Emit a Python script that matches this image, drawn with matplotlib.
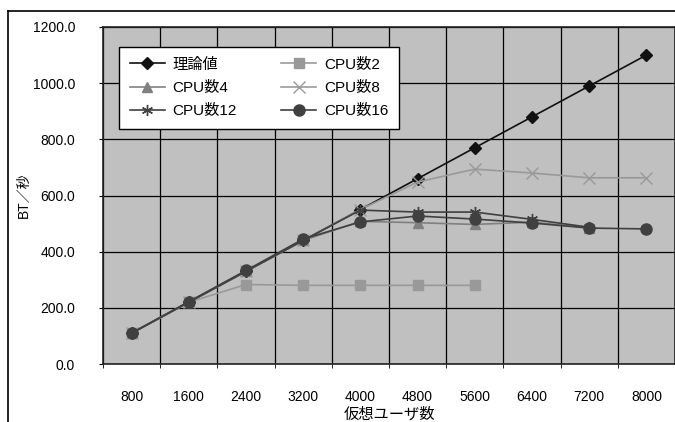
import numpy as np
import matplotlib
matplotlib.use('Agg')
import matplotlib.pyplot as plt
from matplotlib.lines import Line2D

plt.rcParams['font.family'] = ['Liberation Sans', 'Noto Sans CJK JP']

# data
users = ['800', '1600', '2400', '3200', '4000', '4800', '5600', '6400', '7200', '8000']
theory = [110, 220, 330, 440, 550, 660, 770, 880, 990, 1100]
cpu2 = [110, 220, 283, 280, 280, 280, 280, np.nan, np.nan, np.nan]
cpu4 = [110, 220, 330, 440, 508, 503, 497, 505, 485, np.nan]
cpu8 = [110, 220, 330, 440, 550, 648, 694, 680, 663, 663]
cpu12 = [110, 220, 330, 440, 548, 541, 541, 515, 487, np.nan]
cpu16 = [110, 222, 333, 445, 506, 527, 516, 502, 484, 481]

fig = plt.figure(figsize=(6.75, 4.22), dpi=100)
ax = fig.add_axes([103/675, 58/422, 572/675, 337/422])
ax.set_facecolor('#c0c0c0')

x = np.arange(len(users))
h_th, = ax.plot(x, theory, color='#111111', lw=1.2, marker='D', ms=6, label='理論値', zorder=3)
h2, = ax.plot(x, cpu2, color='#999999', lw=1.2, marker='s', ms=7, label='CPU数2', zorder=3)
h4, = ax.plot(x, cpu4, color='#808080', lw=1.2, marker='^', ms=7, label='CPU数4', zorder=3)
h8, = ax.plot(x, cpu8, color='#999999', lw=1.2, marker='x', ms=8, mew=1.0, label='CPU数8', zorder=3)
h12, = ax.plot(x, cpu12, color='#404040', lw=1.2, marker=(6, 2, 0), ms=8, mew=1.0, label='CPU数12', zorder=3)
h16, = ax.plot(x, cpu16, color='#404040', lw=1.2, marker='o', ms=8, label='CPU数16', zorder=3)

ax.set_xlim(-0.5, len(users) - 0.5)
ax.set_ylim(0, 1200)
ax.set_xticks(x)
ax.set_xticklabels(users)
ax.set_xticks(np.arange(-0.5, len(users)), minor=True)
ax.set_yticks(np.arange(0, 1201, 200))
ax.set_yticklabels(['%.1f' % v for v in np.arange(0, 1201, 200)])
ax.tick_params(axis='x', which='major', length=0, pad=19, labelsize=10)
ax.tick_params(axis='x', which='minor', length=3)
ax.tick_params(axis='y', length=3, pad=17, labelsize=10)
ax.grid(True, axis='x', which='minor', color='black', lw=0.9)
ax.grid(True, axis='y', which='major', color='black', lw=0.9)
ax.set_axisbelow(True)
for s in ax.spines.values():
    s.set_color('#222222')
    s.set_linewidth(1.2)

ax.set_xlabel('仮想ユーザ数', fontsize=11, labelpad=2)
ax.set_ylabel('BT／秒', fontsize=10)
ax.yaxis.set_label_coords(-72/572, 0.5)

leg = ax.legend([h_th, h4, h12, h2, h8, h16],
                ['理論値', 'CPU数4', 'CPU数12', 'CPU数2', 'CPU数8', 'CPU数16'],
                ncol=2, loc='upper left', bbox_to_anchor=(16/572, 1 - 20/337),
                fontsize=11, fancybox=False, framealpha=1, edgecolor='black',
                handlelength=2.3, handletextpad=0.5, columnspacing=2.9,
                borderaxespad=0, labelspacing=0.6, borderpad=0.7)
leg.get_frame().set_linewidth(1.0)

# outer chart frame
fig.add_artist(Line2D([8/675, 1], [1 - 11/422, 1 - 11/422], color='black', lw=1.2, transform=fig.transFigure))
fig.add_artist(Line2D([8/675, 8/675], [0, 1 - 11/422], color='black', lw=1.2, transform=fig.transFigure))

plt.savefig('out.png', dpi=100)
